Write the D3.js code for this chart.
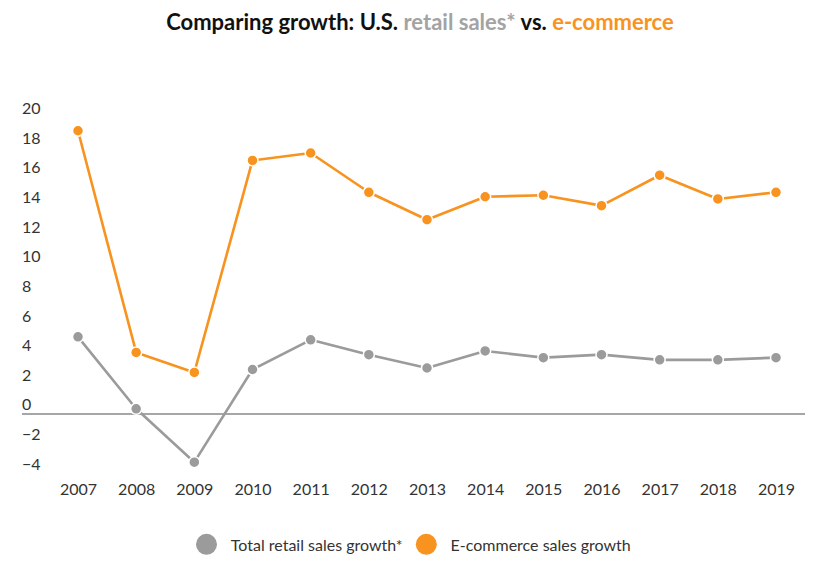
<!DOCTYPE html>
<html>
<head>
<meta charset="utf-8">
<script src="https://cdn.jsdelivr.net/npm/d3@7"></script>
<style>
  html, body { margin: 0; padding: 0; background: #fff; }
  svg { display: block; font-family: Lato, "Open Sans", sans-serif; }
</style>
</head>
<body>
<svg id="chart" width="825" height="570"></svg>
<script>
const years = [2007, 2008, 2009, 2010, 2011, 2012, 2013, 2014, 2015, 2016, 2017, 2018, 2019];
const retailGrowth = [5.2, 0.35, -3.25, 3.0, 5.0, 4.0, 3.1, 4.25, 3.8, 4.0, 3.65, 3.65, 3.8];
const ecommerceGrowth = [19.1, 4.15, 2.8, 17.1, 17.6, 14.95, 13.1, 14.65, 14.75, 14.05, 16.1, 14.5, 14.95];
const yTicks = [-4, -2, 0, 2, 4, 6, 8, 10, 12, 14, 16, 18, 20];
const seriesNames = ["Total retail sales growth*", "E-commerce sales growth"];
const colors = ["#9b9b9b", "#f7931e"];

const svg = d3.select("#chart");

const x = d3.scalePoint().domain(years).range([78, 776]);
const y = d3.scaleLinear().domain([-4, 20]).range([473.3, 117.4]);

// Title
const title = svg.append("text")
  .attr("x", 420).attr("y", 30)
  .attr("text-anchor", "middle")
  .style("font-size", "22px").style("font-weight", "bold");
title.append("tspan").attr("fill", "#111").text("Comparing growth: U.S. ");
title.append("tspan").attr("fill", "#a3a3a3").text("retail sales*");
title.append("tspan").attr("fill", "#111").text(" vs. ");
title.append("tspan").attr("fill", colors[1]).text("e-commerce");

// Y axis labels (above their gridline position)
const yAxis = d3.axisLeft(y).tickValues(yTicks).tickSize(0).tickFormat(d3.format("d"));
const yg = svg.append("g").attr("transform", "translate(22,0)").call(yAxis);
yg.select(".domain").remove();
yg.selectAll("text")
  .attr("x", 0).attr("dy", "-4px")
  .attr("text-anchor", "start")
  .attr("fill", "#333")
  .style("font-size", "16px").style("font-family", "Lato, sans-serif");

// Zero line
svg.append("line")
  .attr("x1", 22).attr("x2", 805)
  .attr("y1", y(0)).attr("y2", y(0))
  .attr("stroke", "#888").attr("stroke-width", 1.3);

// X axis labels
const xAxis = d3.axisBottom(x).tickSize(0).tickFormat(d3.format("d"));
const xg = svg.append("g").attr("transform", "translate(0,481)").call(xAxis);
xg.select(".domain").remove();
xg.selectAll("text")
  .attr("fill", "#333")
  .attr("dy", "0.71em")
  .style("font-size", "16px").style("font-family", "Lato, sans-serif");

// Lines and points
const series = [retailGrowth, ecommerceGrowth];
const line = d3.line().x((d, i) => x(years[i])).y(d => y(d));

series.forEach((vals, s) => {
  svg.append("path")
    .datum(vals)
    .attr("d", line)
    .attr("fill", "none")
    .attr("stroke", colors[s])
    .attr("stroke-width", 2.6)
    .attr("stroke-linejoin", "round");
});
series.forEach((vals, s) => {
  svg.append("g").selectAll("circle")
    .data(vals)
    .join("circle")
    .attr("cx", (d, i) => x(years[i]))
    .attr("cy", d => y(d))
    .attr("r", 5.5)
    .attr("fill", colors[s])
    .attr("stroke", "#fff")
    .attr("stroke-width", 1.5);
});

// Legend
const legendX = [206.5, 426.3];
const legend = svg.append("g");
seriesNames.forEach((name, i) => {
  legend.append("circle")
    .attr("cx", legendX[i]).attr("cy", 544.3)
    .attr("r", 10.5).attr("fill", colors[i]);
  legend.append("text")
    .attr("x", legendX[i] + 24.3).attr("y", 551)
    .attr("fill", "#333")
    .style("font-size", "16px")
    .text(name);
});
</script>
</body>
</html>
